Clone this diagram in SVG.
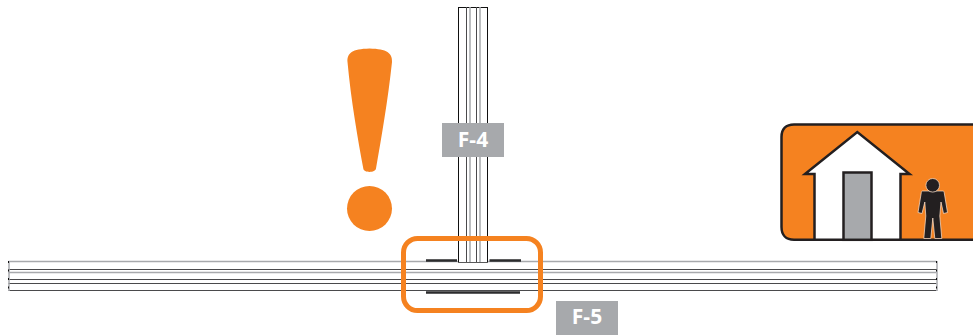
<svg xmlns="http://www.w3.org/2000/svg" width="973" height="336" viewBox="0 0 973 336">
<style>
.k{stroke:#111;fill:none}
.dk{stroke:#4a4a4c;fill:none;stroke-width:1}
.lt{stroke:#a7a9ac;fill:none;stroke-width:1.500}
.bar{stroke:#2b2b2d;stroke-width:2.500;fill:none}
.tag{fill:#a7a9ac}
.lbl{font-family:"Open Sans","Liberation Sans",sans-serif;font-weight:700;font-size:21px;fill:#fff;text-anchor:middle}
.or{fill:#f58220}
</style>
<rect width="973" height="336" fill="#fff"/>
<g id="connectors">
<g id="road-horizontal">
<path class="lt" d="M8.500 261.500H936.500M8.500 272.500H936.500"/>
<path class="dk" d="M8.500 269.500H936.500M8.500 279.500H936.500M8.500 283.500H936.500M8.500 290.500H936.500"/>
<path class="lt" d="M9 261V291"/>
<path class="k" stroke-dasharray="2 6.500" d="M8.500 261V291"/>
<path class="lt" d="M937 261V291"/>
<path class="k" stroke-dasharray="2 6.500" d="M936.500 261V291"/>
</g>
<g id="road-vertical">
<path fill="#fff" d="M459 7H488V263H459Z"/>
<path class="k" d="M459 7.500H487M458.500 7V262.500M487.500 7V262.500"/>
<path class="dk" d="M466.500 7V262M476.500 7V262"/>
<path class="lt" d="M470 7V262M480 7V262"/>
<path class="k" d="M458.500 262.500H487.500" stroke-width="0.700"/>
</g>
<path class="bar" d="M426 260.500H457M489.500 260.500H521M426 292.500H520"/>
</g>
<g id="highlight"><rect x="403.500" y="238.500" width="137" height="72" rx="14" fill="none" stroke="#f58220" stroke-width="5"/></g>
<g id="warning">
<path class="or" d="M347.500 62C347 53 352 49 369.500 48.500C387 49 392.500 53 392 62C388 100 381 140 376 168.500C375.500 173 363.500 173 363.300 168.500C358 140 351 100 347.500 62Z"/>
<circle class="or" cx="369.500" cy="208.500" r="22.500"/>
</g>
<g id="F-4"><rect class="tag" x="442" y="123" width="62" height="34"/><text class="lbl" x="473" y="146.500">F-4</text></g>
<g id="F-5"><rect class="tag" x="556" y="301" width="62" height="34"/><text class="lbl" x="587" y="324">F-5</text></g>
<g id="residence">
<path class="or" stroke="#231f20" stroke-width="2.500" d="M975 124.500H794C786 124.500 781.500 129 781.500 137V227C781.500 235 786 239.800 794 239.800H975Z"/>
<path fill="#fff" stroke="#231f20" stroke-width="2.500" stroke-miterlimit="10" d="M814.500 239.800V174H805L857.300 132L909.500 174H900.500V239.800Z"/>
<rect x="843.500" y="172.500" width="28" height="67.300" fill="#a7a9ac" stroke="#231f20" stroke-width="2.500"/>
<g id="person" fill="#231f20" stroke="#fde4d0" stroke-width="0.700">
<path d="M922.500 191H943C943.500 191 944 191.500 944.200 192.500L947.500 212.500L943.500 213.500L941 202L939.800 216L941.800 238.500H934.800L932.800 218L930.800 238.500H923.800L925.800 216L924.800 202L922 213.500L918 212.500L921.300 192.500C921.500 191.500 922 191 922.500 191Z"/>
<circle cx="932.700" cy="185.300" r="6.800"/>
</g>
</g>
</svg>
